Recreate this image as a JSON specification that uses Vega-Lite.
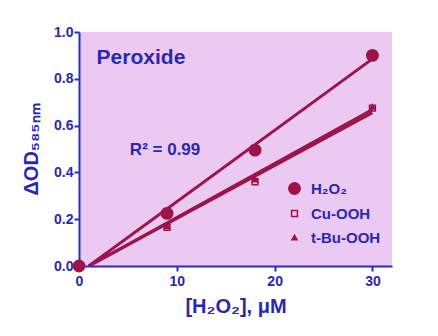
{
  "$schema": "https://vega.github.io/schema/vega-lite/v6.json",
  "width": 313,
  "height": 234,
  "autosize": "none",
  "padding": {"left": 79, "top": 32, "right": 46, "bottom": 70},
  "background": "white",
  "config": {
    "view": {"fill": "#ecc9f3", "stroke": null},
    "font": "Liberation Sans",
    "axis": {
      "domainColor": "#2a2ac8", "domainWidth": 2, "tickColor": "#2a2ac8", "tickWidth": 2, "tickSize": 5,
      "labelColor": "#2828b4", "labelFont": "Liberation Sans", "labelFontWeight": "bold", "labelFontSize": 14,
      "titleColor": "#2828b4", "titleFont": "Liberation Sans", "titleFontWeight": "bold", "titleFontSize": 20,
      "grid": false, "labelFlush": false
    }
  },
  "datasets": {
    "fits": [
      {"series": "H₂O₂", "x": 1, "y": 0},
      {"series": "H₂O₂", "x": 30, "y": 0.885},
      {"series": "Cu-OOH", "x": 1, "y": 0},
      {"series": "Cu-OOH", "x": 30, "y": 0.668},
      {"series": "t-Bu-OOH", "x": 1, "y": 0},
      {"series": "t-Bu-OOH", "x": 30, "y": 0.655}
    ],
    "points": [
      {"series": "H₂O₂", "x": 0, "y": 0},
      {"series": "H₂O₂", "x": 9, "y": 0.225},
      {"series": "H₂O₂", "x": 18, "y": 0.495},
      {"series": "H₂O₂", "x": 30, "y": 0.9},
      {"series": "Cu-OOH", "x": 0, "y": 0},
      {"series": "Cu-OOH", "x": 9, "y": 0.165},
      {"series": "Cu-OOH", "x": 18, "y": 0.36},
      {"series": "Cu-OOH", "x": 30, "y": 0.675},
      {"series": "t-Bu-OOH", "x": 0, "y": 0},
      {"series": "t-Bu-OOH", "x": 9, "y": 0.17},
      {"series": "t-Bu-OOH", "x": 18, "y": 0.37},
      {"series": "t-Bu-OOH", "x": 30, "y": 0.68}
    ],
    "title1": [{"label": "Peroxide", "x": 1.8, "y": 0.89}],
    "title2": [{"label": "R² = 0.99", "x": 5.2, "y": 0.496}]
  },
  "layer": [
    {
      "data": {"name": "fits"},
      "mark": {"type": "line", "stroke": "#9c1448", "strokeWidth": 3, "clip": true},
      "encoding": {
        "x": {"field": "x", "type": "quantitative", "scale": {"domain": [0, 32], "nice": false},
              "axis": {"values": [0, 10, 20, 30], "title": "[H₂O₂], μM", "labelPadding": 3, "titlePadding": 8}},
        "y": {"field": "y", "type": "quantitative", "scale": {"domain": [0, 1], "nice": false},
              "axis": {"values": [0, 0.2, 0.4, 0.6, 0.8, 1.0], "format": ".1f", "title": "ΔOD₅₈₅ₙₘ", "labelPadding": 1, "titlePadding": 12}},
        "detail": {"field": "series"}
      }
    },
    {
      "data": {"name": "points"},
      "mark": {"type": "point", "stroke": "#9c1448", "strokeWidth": 1.5, "opacity": 1, "clip": false},
      "encoding": {
        "x": {"field": "x", "type": "quantitative"},
        "y": {"field": "y", "type": "quantitative"},
        "shape": {"field": "series", "type": "nominal",
                  "scale": {"domain": ["H₂O₂", "Cu-OOH", "t-Bu-OOH"], "range": ["circle", "square", "triangle-up"]},
                  "legend": {"title": null, "orient": "none", "legendX": 208, "legendY": 149,
                             "labelFont": "Liberation Sans", "labelFontWeight": "bold", "labelFontSize": 15,
                             "labelColor": "#2828b4", "rowPadding": 8, "labelOffset": 9, "symbolStrokeWidth": 1.5, "symbolStrokeColor": "#9c1448"}},
        "fill": {"field": "series", "type": "nominal",
                 "scale": {"domain": ["H₂O₂", "Cu-OOH", "t-Bu-OOH"], "range": ["#9c1448", "transparent", "#9c1448"]}},
        "size": {"field": "series", "type": "nominal",
                 "scale": {"type": "ordinal", "domain": ["H₂O₂", "Cu-OOH", "t-Bu-OOH"], "range": [130, 34, 26]}}
      }
    },
    {
      "data": {"name": "title1"},
      "mark": {"type": "text", "align": "left", "baseline": "middle", "font": "Liberation Sans", "fontWeight": "bold", "fontSize": 21, "color": "#2828b4"},
      "encoding": {
        "x": {"field": "x", "type": "quantitative"},
        "y": {"field": "y", "type": "quantitative"},
        "text": {"field": "label"}
      }
    },
    {
      "data": {"name": "title2"},
      "mark": {"type": "text", "align": "left", "baseline": "middle", "font": "Liberation Sans", "fontWeight": "bold", "fontSize": 17, "color": "#2828b4"},
      "encoding": {
        "x": {"field": "x", "type": "quantitative"},
        "y": {"field": "y", "type": "quantitative"},
        "text": {"field": "label"}
      }
    }
  ]
}
